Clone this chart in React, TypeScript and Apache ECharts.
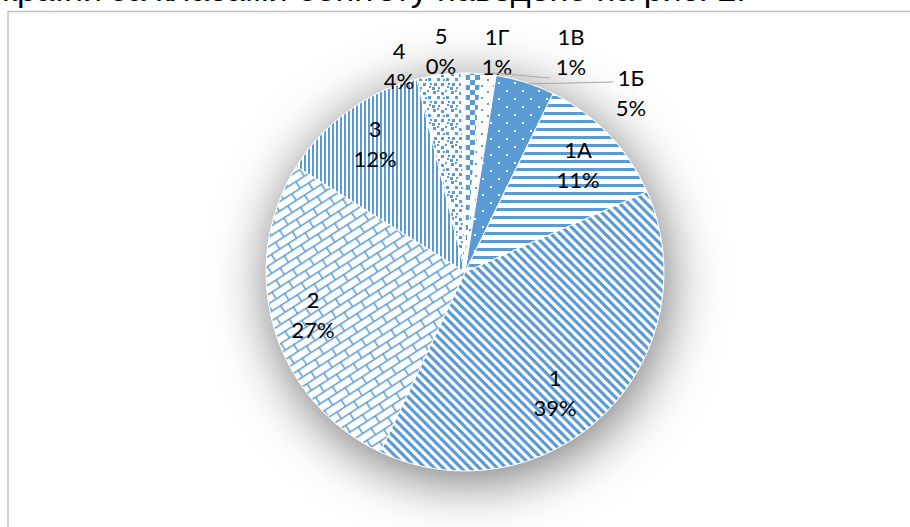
import React, { useEffect, useRef } from "react";
import * as echarts from "echarts";

// ---- data ----
const categories = ["1Г", "1В", "1Б", "1А", "1", "2", "3", "4", "5"];
const shares = [1.3, 1.2, 4.8, 11.1, 38.6, 26.9, 12.2, 3.6, 0.3];

// label anchor points (layout, pixel centres of each two-line label)
const labelAnchors: number[][] = [
  [497, 51], [571, 51], [631, 92], [578, 164], [555, 392],
  [313, 314], [375, 143], [399, 65], [441, 50],
];

const headingText = "країни за класами бонітету наведено на рис. 2.";

const BLUE = "#5B9BD5";

type Draw = (ctx: CanvasRenderingContext2D) => void;
function tile(w: number, h: number, draw: Draw, bg = "#ffffff") {
  const c = document.createElement("canvas");
  c.width = w;
  c.height = h;
  const ctx = c.getContext("2d")!;
  ctx.fillStyle = bg;
  ctx.fillRect(0, 0, w, h);
  ctx.fillStyle = BLUE;
  ctx.strokeStyle = BLUE;
  draw(ctx);
  return c;
}

function makePatterns(): any[] {
  const checker = tile(10, 10, (c) => {
    c.fillRect(0, 0, 5, 5);
    c.fillRect(5, 5, 5, 5);
  });
  const sparseDots = tile(12, 12, (c) => {
    c.fillRect(1, 1, 2, 2);
    c.fillRect(7, 7, 2, 2);
  });
  const whiteDots = tile(
    16,
    16,
    (c) => {
      c.fillStyle = "#ffffff";
      c.fillRect(2, 2, 2, 2);
      c.fillRect(10, 10, 2, 2);
    },
    BLUE
  );
  const horiz = tile(8, 8, (c) => {
    c.fillRect(0, 0, 8, 3);
  });
  const diag = tile(9, 9, (c) => {
    for (const k of [-9, 0, 9]) {
      c.beginPath();
      c.moveTo(k, 0);
      c.lineTo(k + 4.5, 0);
      c.lineTo(k + 4.5 + 9, 9);
      c.lineTo(k + 9, 9);
      c.closePath();
      c.fill();
    }
  });
  const brick = tile(20, 16, (c) => {
    c.fillRect(0, 0, 20, 1.5);
    c.fillRect(0, 8, 20, 1.5);
    c.fillRect(0, 0, 1.5, 8);
    c.fillRect(10, 8, 1.5, 8);
  });
  const vert = tile(4, 4, (c) => {
    c.fillRect(0, 0, 2, 4);
  });
  const confetti = tile(18, 18, (c) => {
    const sq = [
      [1, 1, 3], [9, 2, 3], [5, 6, 3], [14, 6, 3], [2, 11, 3],
      [9, 11, 3], [15, 14, 2], [13, 0, 2], [0, 15, 3], [6, 15, 2],
      [11, 7, 2], [5, 0, 2], [16, 11, 2],
    ];
    for (const [x, y, s] of sq) c.fillRect(x, y, s, s);
  });
  const tiny = tile(8, 8, (c) => {
    c.fillRect(2, 2, 2, 2);
  });
  const pat = (image: HTMLCanvasElement, rotation = 0) => ({
    image,
    repeat: "repeat",
    imageWidth: image.width,
    imageHeight: image.height,
    rotation,
  });
  return [
    pat(checker),
    pat(sparseDots),
    pat(whiteDots),
    pat(horiz),
    pat(diag),
    pat(brick, -Math.PI / 5.5),
    pat(vert),
    pat(confetti),
    pat(tiny),
  ];
}

export default function App() {
  const ref = useRef<HTMLDivElement>(null);
  useEffect(() => {
    if (!ref.current) return;
    const chart = echarts.init(ref.current, undefined, { renderer: "svg" });
    const patterns = makePatterns();
    const CX = 465;
    const CY = 272;
    const R = 199;
    chart.setOption({
      animation: false,
      backgroundColor: "#ffffff",
      graphic: [
        {
          type: "text",
          left: 2,
          top: -28,
          style: {
            text: headingText,
            font: "34px 'Liberation Sans', Arial, sans-serif",
            fill: "#000000",
          },
          z: 10,
        },
        {
          type: "line",
          shape: { x1: 8, y1: 11.5, x2: 910, y2: 11.5 },
          style: { stroke: "#c0c0c0", lineWidth: 1.5 },
          z: 10,
        },
        {
          type: "line",
          shape: { x1: 8, y1: 11, x2: 8, y2: 527 },
          style: { stroke: "#c0c0c0", lineWidth: 1.5 },
          z: 10,
        },
        {
          type: "polyline",
          shape: { points: [[493, 73], [550, 78]] },
          style: { stroke: "#a6a6a6", lineWidth: 1, fill: "none" },
          z: 10,
        },
        {
          type: "polyline",
          shape: { points: [[527, 84], [613, 82]] },
          style: { stroke: "#a6a6a6", lineWidth: 1, fill: "none" },
          z: 10,
        },
      ],
      series: [
        {
          type: "pie",
          silent: true,
          center: [CX, CY],
          radius: R,
          label: { show: false },
          labelLine: { show: false },
          itemStyle: {
            color: "#ffffff",
            shadowBlur: 55,
            shadowColor: "rgba(0,0,0,0.55)",
            shadowOffsetY: 10,
            shadowOffsetX: 3,
          },
          data: [{ value: 1, name: "bg" }],
          z: 1,
        },
        {
          type: "pie",
          center: [CX, CY],
          radius: R,
          startAngle: 90,
          clockwise: true,
          avoidLabelOverlap: false,
          z: 2,
          itemStyle: { borderColor: "#ffffff", borderWidth: 1 },
          label: {
            show: true,
            position: "outside",
            formatter: (p: any) => `${p.name}\n${Math.round(p.percent)}%`,
            fontFamily: "Lato, 'Noto Sans', sans-serif",
            fontSize: 22,
            lineHeight: 30,
            color: "#000000",
            align: "center",
            verticalAlign: "middle",
          },
          labelLine: { show: false },
          labelLayout: (params: any) => {
            const a = labelAnchors[params.dataIndex];
            return { x: a[0], y: a[1], align: "center", verticalAlign: "middle" };
          },
          data: categories.map((name, i) => ({
            name,
            value: shares[i],
            itemStyle: { color: patterns[i] },
          })),
        },
      ],
    });
    return () => chart.dispose();
  }, []);
  return (
    <div
      ref={ref}
      style={{ position: "fixed", left: 0, top: 0, width: 910, height: 527 }}
    />
  );
}
